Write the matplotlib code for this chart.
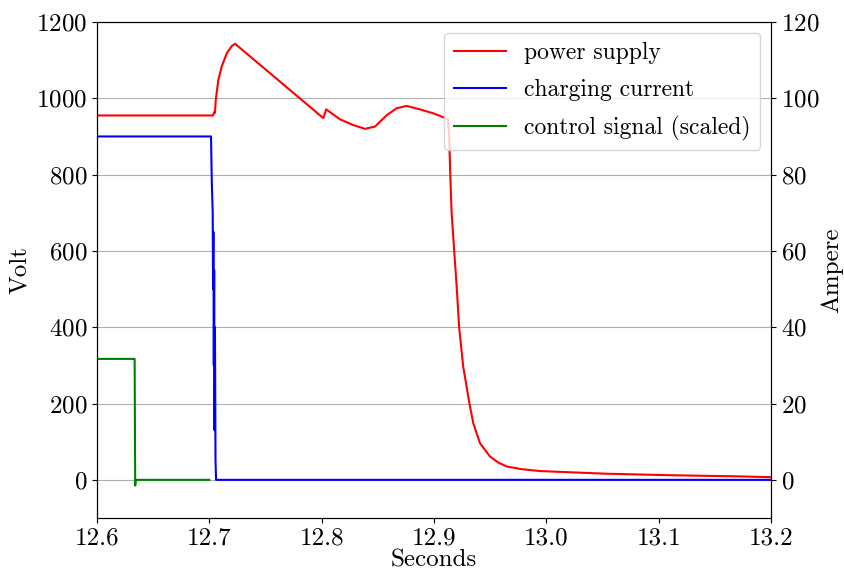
import numpy as np
import matplotlib
matplotlib.use("Agg")
import matplotlib.pyplot as plt

plt.rcParams['font.family'] = 'cmr10'
plt.rcParams['mathtext.fontset'] = 'cm'
plt.rcParams['axes.formatter.use_mathtext'] = True

# power supply voltage (left axis, Volt)
t_supply = [12.6, 12.7033, 12.7045, 12.705, 12.7057, 12.708, 12.711, 12.7155, 12.72,
            12.7229, 12.8015, 12.804, 12.8163, 12.828, 12.8386, 12.8475, 12.858,
            12.8668, 12.8757, 12.8875, 12.899, 12.9053, 12.9125, 12.9135, 12.9145,
            12.9157, 12.918, 12.9202, 12.9224, 12.926, 12.9315, 12.935, 12.941,
            12.9499, 12.9575, 12.9647, 12.978, 12.9944, 13.0538, 13.113, 13.1724, 13.2]
v_supply = [955, 955, 965, 962, 995, 1048, 1083, 1118, 1137,
            1143, 948, 971, 945, 930, 920, 926, 956,
            974, 980, 971, 961, 954, 945, 900, 800,
            700, 600, 506, 400, 297, 201, 148, 96,
            61, 45, 35, 28, 23, 16, 12, 9, 7]

# charging current (right axis, Ampere)
t_current = [12.6, 12.7015, 12.7022, 12.703, 12.7033, 12.7036, 12.704, 12.7043,
             12.7046, 12.705, 12.7055, 12.706, 13.2]
i_current = [90, 90, 78, 70, 50, 65, 30, 55, 13, 40, 5, 0, 0]

# control signal, scaled (right axis)
t_control = [12.6, 12.6335, 12.634, 12.6345, 12.7]
c_control = [31.7, 31.7, -1.5, 0, 0]

fig = plt.figure(figsize=(8.45, 5.76), dpi=100)
ax1 = fig.add_axes([0.1148, 0.1007, 0.7976, 0.8611])
ax2 = ax1.twinx()

l1, = ax1.plot(t_supply, v_supply, color='r', lw=1.5, label='power supply')
l3, = ax2.plot(t_control, c_control, color='g', lw=1.5, label='control signal (scaled)')
l2, = ax2.plot(t_current, i_current, color='b', lw=1.5, label='charging current')

ax1.set_xlim(12.6, 13.2)
ax1.set_ylim(-100, 1200)
ax2.set_ylim(-10, 120)
ax1.set_yticks(np.arange(0, 1201, 200))
ax2.set_yticks(np.arange(0, 121, 20))
ax1.set_xticks(np.arange(12.6, 13.21, 0.1))
ax1.set_xticklabels(['12.6', '12.7', '12.8', '12.9', '13.0', '13.1', '13.2'])
ax1.grid(axis='y')

ax1.tick_params(labelsize=18)
ax2.tick_params(labelsize=18)
ax1.set_xlabel('Seconds', fontsize=18, labelpad=0)
ax1.set_ylabel('Volt', fontsize=18)
ax2.set_ylabel('Ampere', fontsize=18, labelpad=1)

ax2.legend([l1, l2, l3], ['power supply', 'charging current', 'control signal (scaled)'],
           loc='upper right', fontsize=17, handlelength=2.2, labelspacing=0.62,
           borderaxespad=0.45)

fig.savefig('out.png', dpi=100)
